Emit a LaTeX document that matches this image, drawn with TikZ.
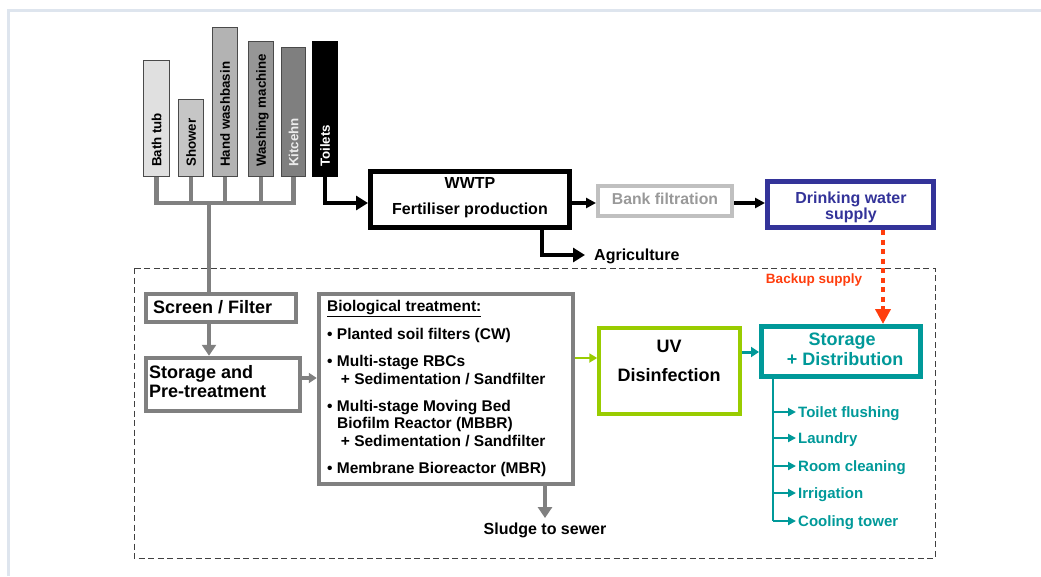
\documentclass[tikz,border=0pt]{standalone}
\usepackage{fontspec}
\setmainfont{Liberation Sans}
\usetikzlibrary{arrows.meta,calc}
\newcommand\myfs[2]{\fontsize{#1}{#2}\selectfont\bfseries}
\definecolor{pipegray}{HTML}{808080}
\definecolor{boxgray}{HTML}{808080}
\definecolor{barline}{HTML}{4A4A4A}
\definecolor{uvgreen}{HTML}{99CC00}
\definecolor{tealc}{HTML}{009999}
\definecolor{dwblue}{HTML}{333399}
\definecolor{bankgray}{HTML}{C0C0C0}
\definecolor{banktext}{HTML}{999999}
\definecolor{backupc}{HTML}{FF3D0D}
\definecolor{framec}{HTML}{DEE5EE}
\definecolor{fbath}{HTML}{E0E0E0}
\definecolor{fshower}{HTML}{C6C6C6}
\definecolor{fhand}{HTML}{B3B3B3}
\definecolor{fwash}{HTML}{969696}
\definecolor{fkitchen}{HTML}{7F7F7F}
\definecolor{dashc}{HTML}{404040}
\begin{document}
\begin{tikzpicture}[x=1pt,y=-1pt,
  bar/.style={draw=barline, line width=1.2pt, minimum width=25pt, anchor=south west, inner sep=0pt},
  blab/.style={rotate=90, anchor=base west, inner sep=0pt, font=\myfs{13.3}{15}},
  gbox/.style={draw=boxgray, line width=4.5pt, inner sep=0pt, fill=white},
  txt/.style={inner sep=0pt, align=center},
  ltxt/.style={inner sep=0pt, align=left},
  pipe/.style={draw=pipegray, line width=4.5pt},
  garrow/.style={draw=pipegray, line width=4.5pt, -{Triangle[length=11pt,width=14pt]}},
  gsmall/.style={draw=pipegray, line width=3.5pt, -{Triangle[length=8pt,width=10pt]}},
  barrow/.style={draw=black, line width=4.5pt, -{Triangle[length=12pt,width=14pt]}},
  bthin/.style={draw=black, line width=3.5pt, -{Triangle[length=10pt,width=10pt]}},
  greenarrow/.style={draw=uvgreen, line width=2.5pt, -{Triangle[length=8pt,width=9pt]}},
  tealarrow/.style={draw=tealc, line width=3pt, -{Triangle[length=8pt,width=10pt]}},
  distline/.style={draw=tealc, line width=2.5pt},
  distarrow/.style={draw=tealc, line width=2.5pt, -{Triangle[length=8pt,width=8pt]}, shorten >=2pt},
  distlab/.style={anchor=west, inner sep=0pt, text=tealc, text height=10.8pt, text depth=0pt, font=\myfs{15}{17}},
  backuparrow/.style={draw=backupc, line width=4.5pt, dash pattern=on 5pt off 4.5pt, -{Triangle[length=15pt,width=15pt]}},
  dashbox/.style={draw=dashc, line width=1pt, dash pattern=on 6pt off 3.5pt}
]
\useasboundingbox (0,0) rectangle (1041,576);
\draw[framec, line width=3pt] (8,576) -- (8,10) -- (1041,10);

% dashed system boundary
\draw[dashbox] (134,268) rectangle (935,558);

% fixtures
\node[bar, fill=fbath, minimum width=25.8pt, minimum height=115.8pt] (bath) at (143,177) {};
\node[bar, fill=fshower, minimum height=76.8pt] (shower) at (178,177) {};
\node[bar, fill=fhand, minimum height=148.8pt] (hand) at (212,177) {};
\node[bar, fill=fwash, minimum height=134.8pt] (wash) at (248,177) {};
\node[bar, fill=fkitchen, minimum width=24pt, minimum height=128.8pt] (kitchen) at (281,177) {};
\node[bar, fill=black, draw=black, minimum height=134.8pt] (toilets) at (312,177) {};

\node[blab] (lbath) at ($(bath.south)+(4.8,-10)$) {Bath tub};
\node[blab] (lshower) at ($(shower.south)+(4.8,-10)$) {Shower};
\node[blab] (lhand) at ($(hand.south)+(4.8,-10)$) {Hand washbasin};
\node[blab] (lwash) at ($(wash.south)+(4.8,-10)$) {Washing machine};
\node[blab, text=white!92!black] (lkitchen) at ($(kitchen.south)+(4.8,-10)$) {Kitcehn};
\node[blab, text=white] (ltoilets) at ($(toilets.south)+(4.8,-10)$) {Toilets};

% upper boxes
\node[draw=black, line width=5pt, inner sep=0pt, minimum width=199pt, minimum height=56pt] (wwtp) at (470,199.5) {};
\node[txt, anchor=north, font=\myfs{16}{26}] (wwtptext) at (470,177.3) {WWTP\\Fertiliser production};
\node[draw=bankgray, line width=4pt, inner sep=0pt, minimum width=134pt, minimum height=30pt] (bank) at (665,201) {};
\node[txt, text=banktext, anchor=north, font=\myfs{15.8}{17}] (banktext) at (665,193.3) {Bank filtration};
\node[draw=dwblue, line width=5pt, inner sep=0pt, minimum width=166pt, minimum height=46pt] (drink) at (850.5,204.5) {};
\node[txt, text=dwblue, anchor=north, font=\myfs{16}{13.5}] (drinktext) at (851,191.3) {Drinking water\\supply};
\node[inner sep=0pt, anchor=west, text height=11.5pt, text depth=0pt, font=\myfs{16}{18}] (agri) at (594,255) {Agriculture};

% lower boxes
\node[gbox, minimum width=150pt, minimum height=28pt] (screen) at (221,308) {};
\node[ltxt, anchor=north west, font=\myfs{18}{20}] (screentext) at (153,300.5) {Screen / Filter};
\node[gbox, minimum width=154pt, minimum height=53pt] (storage) at (223,384.5) {};
\node[ltxt, anchor=north west, font=\myfs{18}{18.5}] (storagetext) at (149,365.5) {Storage and\\Pre-treatment};
\node[gbox, minimum width=254pt, minimum height=190pt] (bio) at (446,389) {};
\node[ltxt, anchor=north west, font=\myfs{15.5}{17.5}] (biotext) at (327,300.5) {\underline{Biological treatment:}\\[10.5pt]
• Planted soil filters (CW)\\[9.5pt]
• Multi-stage RBCs\\
\hspace*{13.7pt}+ Sedimentation / Sandfilter\\[9.5pt]
• Multi-stage Moving Bed\\
\hspace*{10pt}Biofilm Reactor (MBBR)\\
\hspace*{13.7pt}+ Sedimentation / Sandfilter\\[9.5pt]
• Membrane Bioreactor (MBR)};
\node[inner sep=0pt, anchor=center, text height=11.5pt, text depth=0pt, font=\myfs{16}{18}] (sludge) at (545,529) {Sludge to sewer};

\node[draw=uvgreen, line width=3.5pt, inner sep=0pt, fill=white, minimum width=141pt, minimum height=86pt] (uv) at (669.5,371) {};
\node[txt, anchor=north, font=\myfs{18}{29}] (uvtext) at (669,339.5) {UV\\Disinfection};
\node[draw=tealc, line width=5pt, inner sep=0pt, fill=white, minimum width=159pt, minimum height=50pt] (stor) at (841,351.5) {};
\node[txt, text=tealc, anchor=north, font=\myfs{18}{20}] (stortext) at (842,332.5) {Storage\\\,\,+ Distribution};
\node[inner sep=0pt, text=backupc, anchor=center, text height=9.7pt, text depth=0pt, font=\myfs{13.5}{15}] (backup) at (814,279) {Backup supply};

\node[distlab] (tf) at (798,412) {Toilet flushing};
\node[distlab] (la) at (798,438) {Laundry};
\node[distlab] (rc) at (798,466) {Room cleaning};
\node[distlab] (ir) at (798,493) {Irrigation};
\node[distlab] (ct) at (798,521) {Cooling tower};

% helper coordinates
\coordinate (hub) at (209,203);
\coordinate (sb) at (0,378);
\coordinate (bu) at (0,358);
\coordinate (us) at (0,352);
\coordinate (ag) at (542,0);
\coordinate (ox) at (883,0);
\coordinate (vx) at (773,0);

% grey pipes
\draw[pipe] (bath.south) |- (kitchen.south |- hub) -- (kitchen.south);
\draw[pipe] (shower.south) -- (shower.south |- hub);
\draw[pipe] (hand.south) -- (hand.south |- hub);
\draw[pipe] (wash.south) -- (wash.south |- hub);
\draw[pipe] (hub) -- (hub |- screen.north);
\draw[garrow] (hub |- screen.south) -- (hub |- storage.north);
\draw[gsmall] (storage.east |- sb) -- (bio.west |- sb);
\draw[garrow] (sludge.north |- bio.south) -- ([yshift=5pt]sludge.north);

% black connectors
\draw[barrow] (toilets.south) |- (wwtp.west |- hub);
\draw[bthin] (wwtp.east |- hub) -- (bank.west |- hub);
\draw[bthin] (bank.east |- hub) -- (drink.west |- hub);
\draw[barrow, shorten >=9pt] (ag |- wwtp.south) |- (agri.west);

% coloured connectors
\draw[backuparrow] (ox |- drink.south) -- (ox |- stor.north);
\draw[greenarrow] (bio.east |- bu) -- (uv.west |- bu);
\draw[tealarrow] (uv.east |- us) -- (stor.west |- us);
\draw[distline] (vx |- stor.south) -- (vx |- ct.west);
\draw[distarrow] (vx |- tf.west) -- (tf.west);
\draw[distarrow] (vx |- la.west) -- (la.west);
\draw[distarrow] (vx |- rc.west) -- (rc.west);
\draw[distarrow] (vx |- ir.west) -- (ir.west);
\draw[distarrow] (vx |- ct.west) -- (ct.west);
\end{tikzpicture}
\end{document}
